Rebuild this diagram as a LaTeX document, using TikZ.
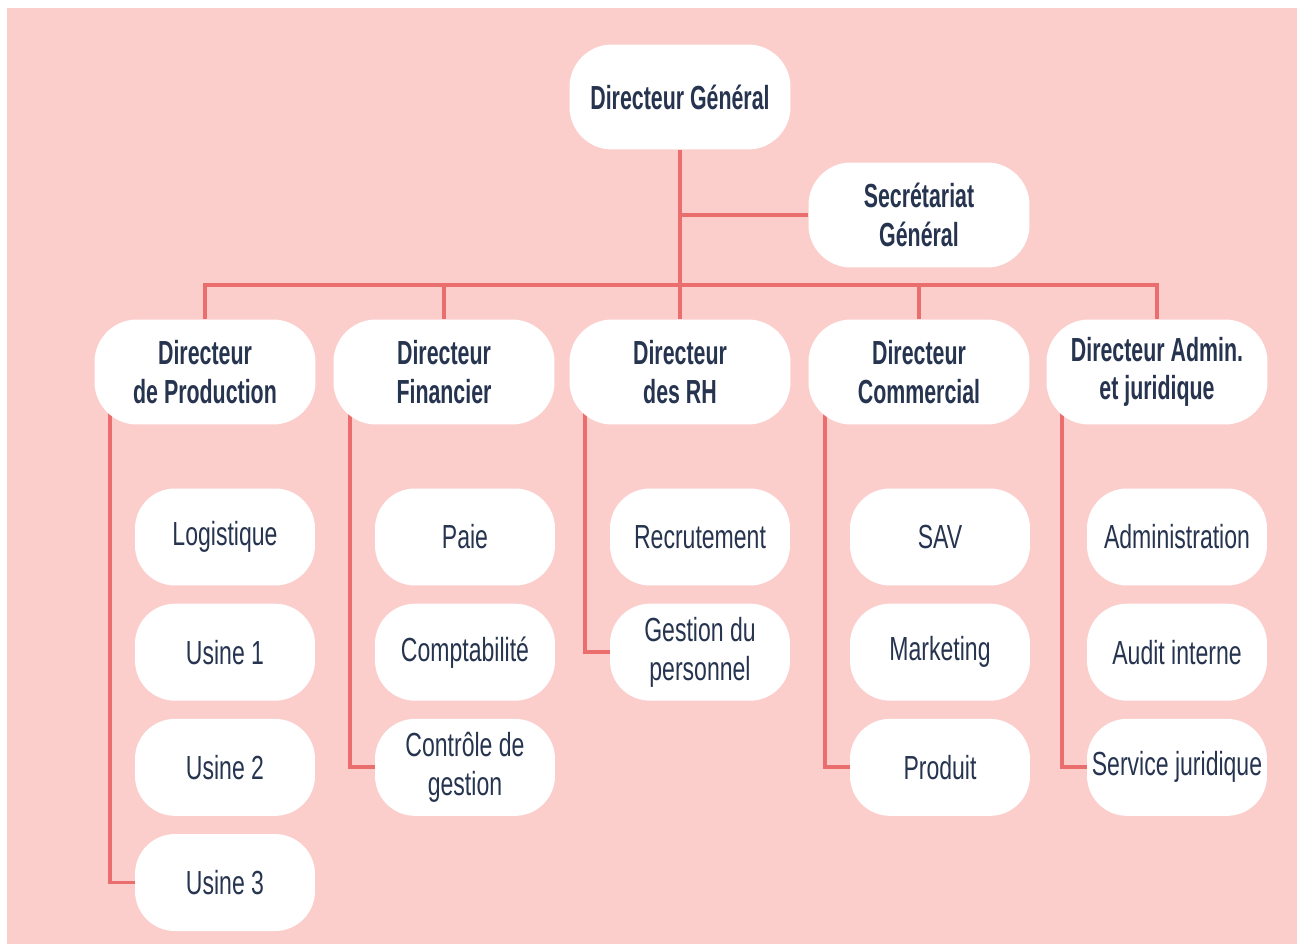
\documentclass[tikz,border=0pt]{standalone}
\usepackage{fontspec}
\newfontfamily\headfont{Liberation Sans}[FakeStretch=0.64]
\newfontfamily\itemfont{Liberation Sans}[FakeStretch=0.69]
\usetikzlibrary{positioning,backgrounds}
\definecolor{bgpink}{HTML}{FBCECC}
\definecolor{linkred}{HTML}{EA6E6D}
\definecolor{inknavy}{HTML}{26344F}

\begin{document}
\begin{tikzpicture}[x=0.02cm,y=-0.02cm,node distance=0.35cm,
      head/.style={rectangle,rounded corners=0.85cm,fill=white,text=inknavy,align=center,
        minimum width=4.42cm,minimum height=2.1cm,inner sep=0pt,
        font={\fontsize{19}{22}\selectfont\headfont\bfseries}},
      item/.style={rectangle,rounded corners=0.8cm,fill=white,text=inknavy,align=center,
        minimum width=3.6cm,minimum height=1.94cm,inner sep=0pt,
        font={\fontsize{19}{22}\selectfont\itemfont}},
      link/.style={draw=linkred,line width=2.2pt}
      ]
      \useasboundingbox (0,0) rectangle (1305,946);
      % top
      \node (dg)  [head] at (680,97)  {Directeur Général};
      \node (sec) [head] at (919,215) {Secrétariat\\Général};
      \coordinate (bus) at (680,285);
      % directors
      \node (dprod) [head] at (205,372)  {Directeur\\de Production};
      \node (dfin)  [head] at (444,372)  {Directeur\\Financier};
      \node (drh)   [head] at (680,372)  {Directeur\\des RH};
      \node (dcom)  [head] at (919,372)  {Directeur\\Commercial};
      \node (dadm)  [head] at (1157,372) {Directeur Admin.\\et juridique};
      % services
      \node (log) [item] at (225,537) {Logistique};
      \node (us1) [item, below=of log] {Usine 1};
      \node (us2) [item, below=of us1] {Usine 2};
      \node (us3) [item, below=of us2] {Usine 3};
      \node (paie)  [item] at (465,537) {Paie};
      \node (compt) [item, below=of paie] {Comptabilité};
      \node (ctrl)  [item, below=of compt] {Contrôle de\\gestion};
      \node (recr) [item] at (700,537) {Recrutement};
      \node (pers) [item, below=of recr] {Gestion du\\personnel};
      \node (sav)  [item] at (940,537) {SAV};
      \node (mkt)  [item, below=of sav] {Marketing};
      \node (prd)  [item, below=of mkt] {Produit};
      \node (admi)  [item] at (1177,537) {Administration};
      \node (audit) [item, below=of admi] {Audit interne};
      \node (jur)   [item, below=of audit] {Service juridique};
      \begin{scope}[on background layer]
      \fill[white] (0,0) rectangle (1305,946);
      \fill[bgpink] (7,8) rectangle (1297,944);
      \draw[link] (dg) -- (drh);
      \draw[link] (sec) -- (sec -| dg);
      \draw[link] (dprod) |- (bus) -| (dadm);
      \draw[link] (dfin) -- (dfin |- bus);
      \draw[link] (dcom) -- (dcom |- bus);
      % branches
      \draw[link] ([xshift=0.32cm]dprod.west) |- (us3);
      \draw[link] ([xshift=0.34cm]dfin.west) |- (ctrl);
      \draw[link] ([xshift=0.32cm]drh.west) |- (pers);
      \draw[link] ([xshift=0.34cm]dcom.west) |- (prd);
      \draw[link] ([xshift=0.32cm]dadm.west) |- (jur);
      \draw[link] (log) -- ++(-25,0);
      \draw[link] (us1) -- ++(-25,0);
      \draw[link] (us2) -- ++(-25,0);
      \draw[link] (paie) -- ++(-25,0);
      \draw[link] (compt) -- ++(-25,0);
      \draw[link] (recr) -- ++(-25,0);
      \draw[link] (sav) -- ++(-25,0);
      \draw[link] (mkt) -- ++(-25,0);
      \draw[link] (admi) -- ++(-25,0);
      \draw[link] (audit) -- ++(-25,0);
      \end{scope}
    \end{tikzpicture}
\end{document}
